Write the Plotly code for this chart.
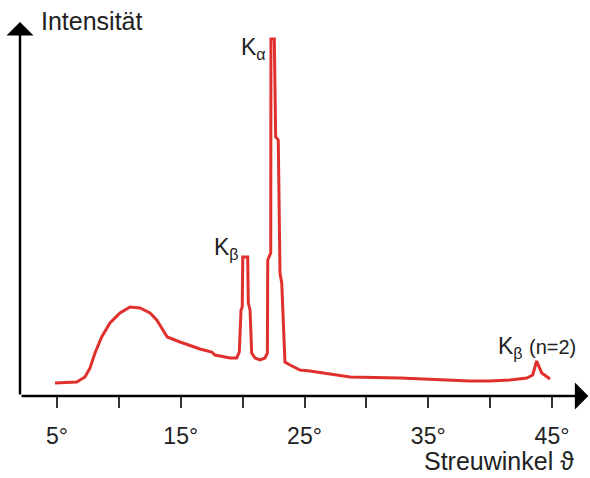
import plotly.graph_objects as go

# Scattering angle (degrees) and intensity (arbitrary units)
angle = [4.84, 6.59, 7.26, 7.67, 8.07, 8.61, 9.28, 10.09, 10.90, 11.71, 12.52, 13.06,
         13.46, 13.91, 14.94, 16.56, 17.50, 17.77, 18.98, 19.52, 19.73, 19.87, 19.97,
         20.01, 20.41, 20.46, 20.60, 20.73, 21.00, 21.40, 21.81, 22.00, 22.03, 22.27,
         22.29, 22.56, 22.67, 22.88, 23.02, 23.16, 23.42, 23.83, 24.64, 25.44, 28.68,
         32.72, 38.37, 39.99, 41.61, 42.96, 43.44, 43.76, 44.17, 44.84]
intensity = [13, 14, 19, 28, 43, 59, 73, 83, 89, 88, 83, 76,
             68, 59, 54, 47, 44, 41, 38, 38, 44, 86, 89,
             139, 139, 93, 86, 43, 38, 36, 38, 43, 136, 143,
             357, 357, 259, 256, 123, 113, 34, 31, 26, 25, 19,
             18, 15, 15, 16, 18, 21, 35, 23, 17]

tick_vals = [5, 10, 15, 20, 25, 30, 35, 40, 45]
tick_text = ["5°", "", "15°", "", "25°", "", "35°", "", "45°"]

X0, X1 = 2.01, 47.99
Y0, Y1 = 0, 374
FONT = "Liberation Sans"

fig = go.Figure()
fig.add_trace(go.Scatter(x=angle, y=intensity, mode="lines",
                         line=dict(color="#e0302e", width=3, shape="linear"),
                         hoverinfo="skip"))

# axes as arrows
fig.add_annotation(x=X1 - 0.05, y=0, ax=X0, ay=0, xref="x", yref="y", axref="x", ayref="y",
                   text="", showarrow=True, arrowhead=1, arrowsize=1.8, arrowwidth=2.5,
                   arrowcolor="black", standoff=0)
fig.add_annotation(x=X0, y=Y1, ax=X0, ay=0, xref="x", yref="y", axref="x", ayref="y",
                   text="", showarrow=True, arrowhead=1, arrowsize=1.8, arrowwidth=2.5,
                   arrowcolor="black", standoff=0)

lab = dict(showarrow=False, font=dict(family=FONT, size=23, color="#222"))
big = dict(showarrow=False, font=dict(family=FONT, size=25, color="#222"))
fig.add_annotation(x=19.72, y=348, xref="x", yref="y", text="K<sub>α</sub>",
                   xanchor="left", yanchor="middle", **lab)
fig.add_annotation(x=17.55, y=148, xref="x", yref="y", text="K<sub>β</sub>",
                   xanchor="left", yanchor="middle", **lab)
fig.add_annotation(x=40.50, y=49, xref="x", yref="y",
                   text="K<sub>β</sub> <span style='font-size:20px'>(n=2)</span>",
                   xanchor="left", yanchor="middle", **lab)
fig.add_annotation(x=0.033, y=1.003, xref="paper", yref="paper", text="Intensität",
                   xanchor="left", yanchor="middle", **big)
fig.add_annotation(x=0.978, y=-0.217, xref="paper", yref="paper", text="Streuwinkel ϑ",
                   xanchor="right", yanchor="bottom", **big)

fig.update_layout(
    width=590, height=478,
    margin=dict(l=20, r=1, t=22, b=82),
    paper_bgcolor="white", plot_bgcolor="white",
    showlegend=False,
    xaxis=dict(range=[X0, X1], showgrid=False, zeroline=False, showline=False,
               tickmode="array", tickvals=tick_vals, ticktext=tick_text,
               ticks="outside", ticklen=11, tickwidth=2, tickcolor="#333",
               ticklabelstandoff=8,
               tickfont=dict(family=FONT, size=23, color="#222")),
    yaxis=dict(range=[Y0, Y1], showgrid=False, zeroline=False, showline=False,
               showticklabels=False, ticks=""),
)

fig.write_html("out.html")
